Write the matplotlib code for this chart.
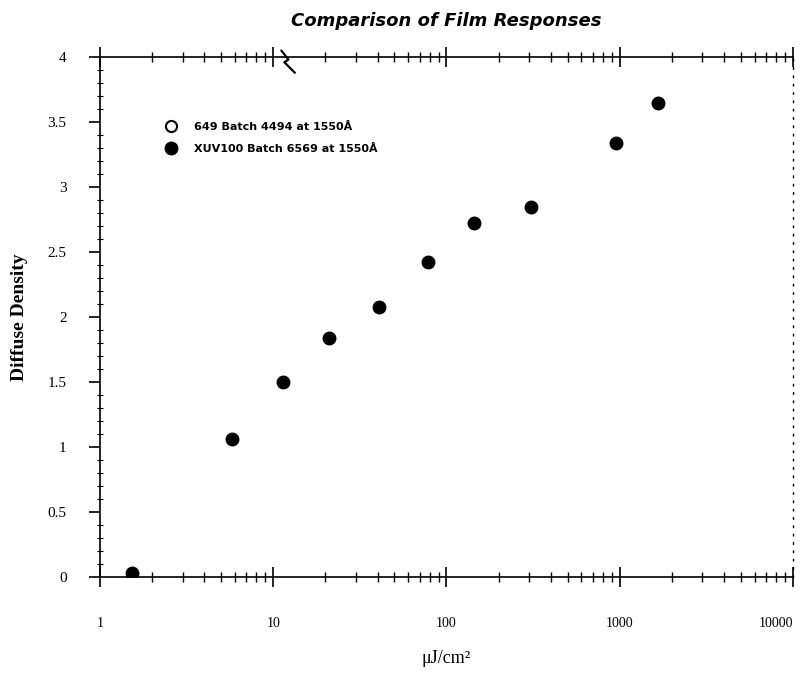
import matplotlib.pyplot as plt
from matplotlib.ticker import FixedLocator, LogLocator, MultipleLocator, NullFormatter
import numpy as np

# data
energy_xuv = [1.53, 5.8, 11.4, 20.9, 40.7, 78, 144, 307, 950, 1660]   # uJ/cm^2
density_xuv = [0.03, 1.06, 1.50, 1.84, 2.08, 2.42, 2.72, 2.85, 3.34, 3.65]
energy_649 = []      # no visible points for this batch
density_649 = []

xticks = [1, 10, 100, 1000, 10000]
xtick_labels = ['1', '10', '100', '1000', '10000']
yticks = [0, 0.5, 1, 1.5, 2, 2.5, 3, 3.5, 4]
ytick_labels = ['0', '0.5', '1', '1.5', '2', '2.5', '3', '3.5', '4']

serif = 'Liberation Serif'

fig = plt.figure(figsize=(8.01, 6.73), dpi=100)
ax = fig.add_axes([0.1248, 0.1426, 0.8652, 0.7727])

ax.plot(energy_649, density_649, 'o', mfc='white', mec='black', mew=1.5, ms=8,
        label='649 Batch 4494 at 1550\u00c5')
ax.plot(energy_xuv, density_xuv, 'o', color='black', ms=9,
        label='XUV100 Batch 6569 at 1550\u00c5')

ax.set_xscale('log')
ax.set_xlim(1, 10000)
ax.set_ylim(0, 4)

ax.xaxis.set_major_locator(FixedLocator(xticks))
ax.set_xticklabels(xtick_labels, fontfamily=serif, fontsize=10)
ax.get_xticklabels()[-1].set_ha('right')
ax.xaxis.set_minor_locator(LogLocator(base=10, subs=np.arange(2, 10)))
ax.xaxis.set_minor_formatter(NullFormatter())
ax.tick_params(axis='x', which='major', direction='inout', length=14, width=1.2,
               top=True, bottom=True, pad=22)
ax.tick_params(axis='x', which='minor', direction='inout', length=7, width=1,
               top=True, bottom=True)

ax.set_yticks(yticks)
ax.set_yticklabels(ytick_labels, fontfamily=serif, fontsize=11)
ax.yaxis.set_minor_locator(MultipleLocator(0.1))
ax.tick_params(axis='y', which='major', direction='out', length=8, width=1.2,
               left=True, right=False, pad=16)
ax.tick_params(axis='y', which='minor', direction='inout', length=4, width=0.8,
               left=True, right=False)

for side in ['top', 'bottom', 'left']:
    ax.spines[side].set_linewidth(1.2)
ax.spines['right'].set_linestyle((0, (1, 5)))
ax.spines['right'].set_linewidth(1.0)

# break mark on the top axis
ax.plot([0.262, 0.272, 0.266, 0.281], [1.012, 0.995, 0.99, 0.97],
        color='black', lw=1.6, transform=ax.transAxes, clip_on=False)

ax.set_title('Comparison of Film Responses', fontsize=13, fontweight='bold',
             fontstyle='italic', pad=22)
ax.set_xlabel('\u03bcJ/cm\u00b2', fontfamily=serif, fontsize=13, labelpad=14)
ax.set_ylabel('Diffuse Density', fontfamily=serif, fontsize=14, fontweight='bold',
              labelpad=14)

ax.legend(loc='upper left', bbox_to_anchor=(0.094, 0.875), frameon=False,
          borderaxespad=0, borderpad=0, handlelength=1, handletextpad=1.6,
          labelspacing=1.1, prop={'size': 8, 'weight': 'bold'})

plt.savefig('out.png', dpi=100)
